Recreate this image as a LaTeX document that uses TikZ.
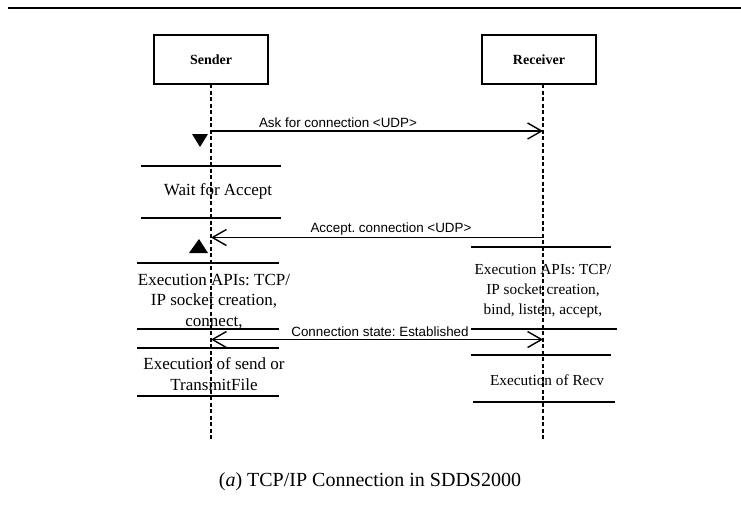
\documentclass[tikz,border=0pt]{standalone}
\usepackage{fontspec}
\setmainfont{Liberation Serif}
\newfontfamily\sansf{Liberation Sans}
\usetikzlibrary{arrows.meta}
\frenchspacing
\tikzset{
  actor/.style={draw, line width=1.5pt, minimum width=114pt, minimum height=49pt, inner sep=0pt, font=\fontsize{14}{16}\selectfont\bfseries},
  lifeline/.style={line width=1.4pt, dash pattern=on 4pt off 2.5pt},
  tipbarb/.tip={Straight Barb[length=14pt,width=16pt,line width=1.4pt]},
  msg/.style={line width=1.4pt, -tipbarb},
  msgboth/.style={line width=1.4pt, tipbarb-tipbarb},
  msglabel/.style={font=\sansf\fontsize{13.4}{15}\selectfont, inner sep=0pt, anchor=base},
  bar/.style={line width=1.6pt},
  stext/.style={align=center, inner sep=0pt, font=\fontsize{17}{20.5}\selectfont},
  rtext/.style={align=center, inner sep=0pt, font=\fontsize{15.3}{20}\selectfont},
}
\begin{document}
\begin{tikzpicture}[x=1pt,y=-1pt]
\useasboundingbox (0,0) rectangle (741,509);
% top rule
\coordinate (ruleL) at (8,8);
\coordinate (ruleR) at (741,8);
\draw[line width=2.8pt] (ruleL) -- (ruleR);

% actors
\node[actor] (S) at (211,59.5) {Sender};
\node[actor] (R) at (539,59.5) {Receiver};

% lifelines
\coordinate (Stop) at (211,84);
\coordinate (Sbot) at (211,440);
\coordinate (Rtop) at (543,84);
\coordinate (Rbot) at (543,440);
\draw[lifeline] (Stop) -- (Sbot);
\draw[lifeline] (Rtop) -- (Rbot);

% message 1
\coordinate (m1s) at (211,131);
\coordinate (m1r) at (543,131);
\draw[msg] (m1s) -- (m1r);
\node[msglabel] (l1) at (338,127) {Ask for connection <UDP>};

% down triangle
\coordinate (t1a) at (192,134);
\coordinate (t1b) at (208,134);
\coordinate (t1c) at (200,147);
\fill (t1a) -- (t1b) -- (t1c) -- cycle;

% wait for accept
\draw[bar] (141,165.7) -- (281,165.7);
\draw[bar] (141,218) -- (281,218);
\node[stext] (wait) at (218,191) {Wait for Accept};

% message 2
\coordinate (m2r) at (543,237.5);
\coordinate (m2s) at (211,237.5);
\draw[msg] (m2r) -- (m2s);
\node[msglabel] (l2) at (391,232) {Accept. connection <UDP>};

% up triangle
\coordinate (t2a) at (189,253);
\coordinate (t2b) at (208,253);
\coordinate (t2c) at (199,239);
\fill (t2a) -- (t2b) -- (t2c) -- cycle;

% sender execution APIs
\draw[bar] (137,263) -- (279,263);
\node[stext] (sexec) at (214,301.5) {Execution APIs: TCP/\\IP socket creation,\\connect,};
\draw[bar] (137,329) -- (279,329);

% receiver execution APIs
\draw[bar] (471,247) -- (611,247);
\node[rtext] (rexec) at (543,291) {Execution APIs: TCP/\\IP socket creation,\\bind, listen, accept,};
\draw[bar] (471,329) -- (617,329);

% message 3
\coordinate (m3s) at (211,339.5);
\coordinate (m3r) at (543,339.5);
\draw[msgboth] (m3s) -- (m3r);
\node[msglabel] (l3) at (380,336) {Connection state: Established};

% send block
\draw[bar] (137,348) -- (279,348);
\node[stext] (ssend) at (214,374) {Execution of send or\\TransmitFile};
\draw[bar] (137,396) -- (279,396);

% recv block
\draw[bar] (471,355) -- (611,355);
\node[rtext] (rrecv) at (547,380) {Execution of Recv};
\draw[bar] (473,402) -- (615,402);

% caption
\node[inner sep=0pt, anchor=base, font=\fontsize{20}{24}\selectfont] (cap) at (370,486) {(\textit{a}) TCP/IP Connection in SDDS2000};
\end{tikzpicture}
\end{document}
